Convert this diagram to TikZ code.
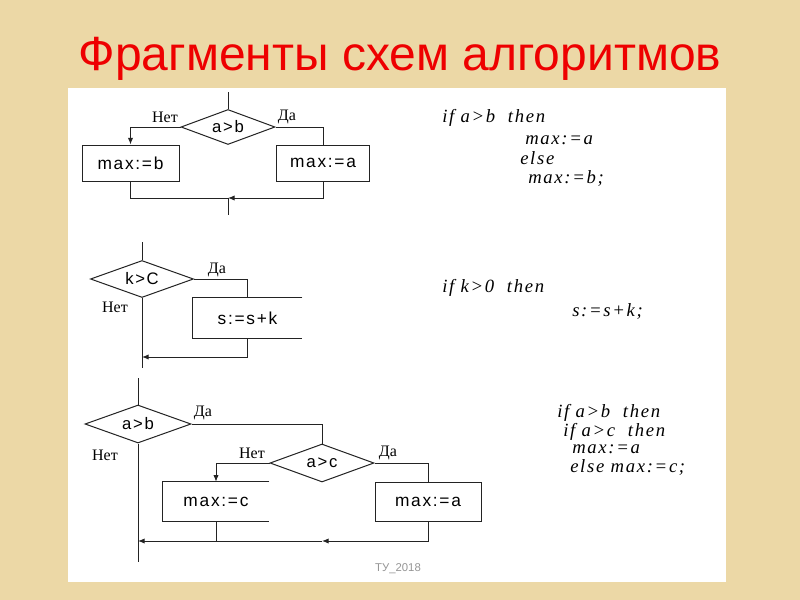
\documentclass[tikz,border=0pt]{standalone}
\usepackage{fontspec}
\setmainfont{Liberation Serif}
\newfontfamily\boxfont[LetterSpace=10]{Liberation Sans}
\newfontfamily\codefont[LetterSpace=9]{Liberation Serif}
\newfontfamily\titlefont{Liberation Sans}
\usetikzlibrary{shapes.geometric,arrows.meta}

\definecolor{paper}{RGB}{236,216,166}
\definecolor{ink}{RGB}{35,35,35}
\definecolor{titlered}{RGB}{238,0,0}
\definecolor{footgray}{RGB}{150,150,150}

\begin{document}
\begin{tikzpicture}[x=0.75pt,y=0.75pt,yscale=-1,xscale=1,
  line/.style={draw=ink, line width=0.75pt},
  arr/.style={line, -{Latex[length=5pt,width=4pt]}},
  cond/.style={diamond, draw=ink, line width=0.75pt, inner sep=0pt, aspect=3,
    font=\boxfont\fontsize{12.5}{14}\selectfont},
  act/.style={inner sep=0pt, font=\boxfont\fontsize{13}{15}\selectfont},
  actbox/.style={act, draw=ink, line width=0.75pt},
  yesno/.style={inner sep=0.75pt, font=\fontsize{12}{14}\selectfont},
  code/.style={anchor=base west, inner sep=0pt, font=\codefont\itshape\fontsize{14}{16}\selectfont}
]
\useasboundingbox (0,0) rectangle (800,600);

%Shape: Rectangle [id:paper]
\fill [paper] (0,0) rectangle (800,600);
%Shape: Rectangle [id:sheet]
\fill [white] (68,88) rectangle (726,582);

% Text Node
\node (title) [anchor=base, inner sep=0pt, text=titlered, font=\titlefont\fontsize{36}{42}\selectfont] at (400,70) {Фрагменты схем алгоритмов};
% Text Node
\node (foot) [inner sep=0pt, text=footgray, font=\titlefont\fontsize{8.5}{10}\selectfont] at (398,569) {ТУ\_2018};

%%% fragment 1
\coordinate (in1) at (228,92);
\node (ab1) [cond, minimum width=70.5pt, minimum height=26.25pt] at (228,127) {a>b};
\node (maxb1) [actbox, minimum width=72.75pt, minimum height=27pt] at (130.5,163) {max:=b};
\node (maxa1) [actbox, minimum width=69.75pt, minimum height=27pt] at (323,163) {max:=a};
\coordinate (join1) at (228,198);
\coordinate (out1) at (228,215);
\node (no1) [yesno] at (165,117) {Нет};
\node (yes1) [yesno] at (287,117) {Да};

\draw [line] (in1) -- (ab1.north);
\draw [arr] (ab1.west) -| (maxb1.north);
\draw [line] (ab1.east) -| (maxa1.north);
\draw [line] (maxb1.south) |- (join1);
\draw [arr] (maxa1.south) |- (join1);
\draw [line] (join1) -- (out1);

% Text Node
\node (code1a) [code] at (442,122) {if a>b~~then};
\node (code1b) [code] at (525,144) {max:=a};
\node (code1c) [code] at (520,164) {else};
\node (code1d) [code] at (528,183) {max:=b;};

%%% fragment 2
\coordinate (in2) at (142,242);
\node (kc2) [cond, minimum width=77.25pt, minimum height=27.75pt] at (142,279) {k>C};
\node (sk2) [act, minimum width=81.75pt, minimum height=30pt] at (247.5,318) {s:=s+k};
\coordinate (join2) at (142,357);
\coordinate (out2) at (142,368);
\node (yes2) [yesno] at (217,270) {Да};
\node (no2) [yesno] at (115,307) {Нет};

\draw [line] (sk2.north east) -- (sk2.north west) -- (sk2.south west) -- (sk2.south east);
\draw [line] (in2) -- (kc2.north);
\draw [line] (kc2.east) -| (sk2.north);
\draw [arr] (sk2.south) |- (join2);
\draw [line] (kc2.south) -- (out2);

% Text Node
\node (code2a) [code] at (442,292) {if k>0~~then};
\node (code2b) [code] at (572,316) {s:=s+k;};

%%% fragment 3
\coordinate (in3) at (138,378);
\node (ab3) [cond, minimum width=79.5pt, minimum height=28.5pt] at (138,424) {a>b};
\node (ac3) [cond, minimum width=78pt, minimum height=28.5pt] at (322,463) {a>c};
\node (maxc3) [act, minimum width=79.5pt, minimum height=29.25pt] at (216,501.5) {max:=c};
\node (maxa3) [actbox, minimum width=79.5pt, minimum height=29.25pt] at (428,501.5) {max:=a};
\coordinate (mid3) at (322,541);
\coordinate (join3) at (138,541);
\coordinate (out3) at (138,562);
\node (yes3) [yesno] at (203,413) {Да};
\node (no3) [yesno] at (105,455) {Нет};
\node (no4) [yesno] at (252,453) {Нет};
\node (yes4) [yesno] at (388,453) {Да};

\draw [line] (maxc3.north east) -- (maxc3.north west) -- (maxc3.south west) -- (maxc3.south east);
\draw [line] (in3) -- (ab3.north);
\draw [line] (ab3.east) -| (ac3.north);
\draw [arr] (ac3.west) -| (maxc3.north);
\draw [line] (ac3.east) -| (maxa3.north);
\draw [arr] (maxa3.south) |- (mid3);
\draw [arr] (mid3) -- (join3);
\draw [line] (maxc3.south) -- (maxc3.south |- join3);
\draw [line] (ab3.south) -- (out3);

% Text Node
\node (code3a) [code] at (557,417) {if a>b~~then};
\node (code3b) [code] at (563,436) {if a>c~~then};
\node (code3c) [code] at (572,453) {max:=a};
\node (code3d) [code] at (570,472) {else max:=c;};

\end{tikzpicture}
\end{document}
